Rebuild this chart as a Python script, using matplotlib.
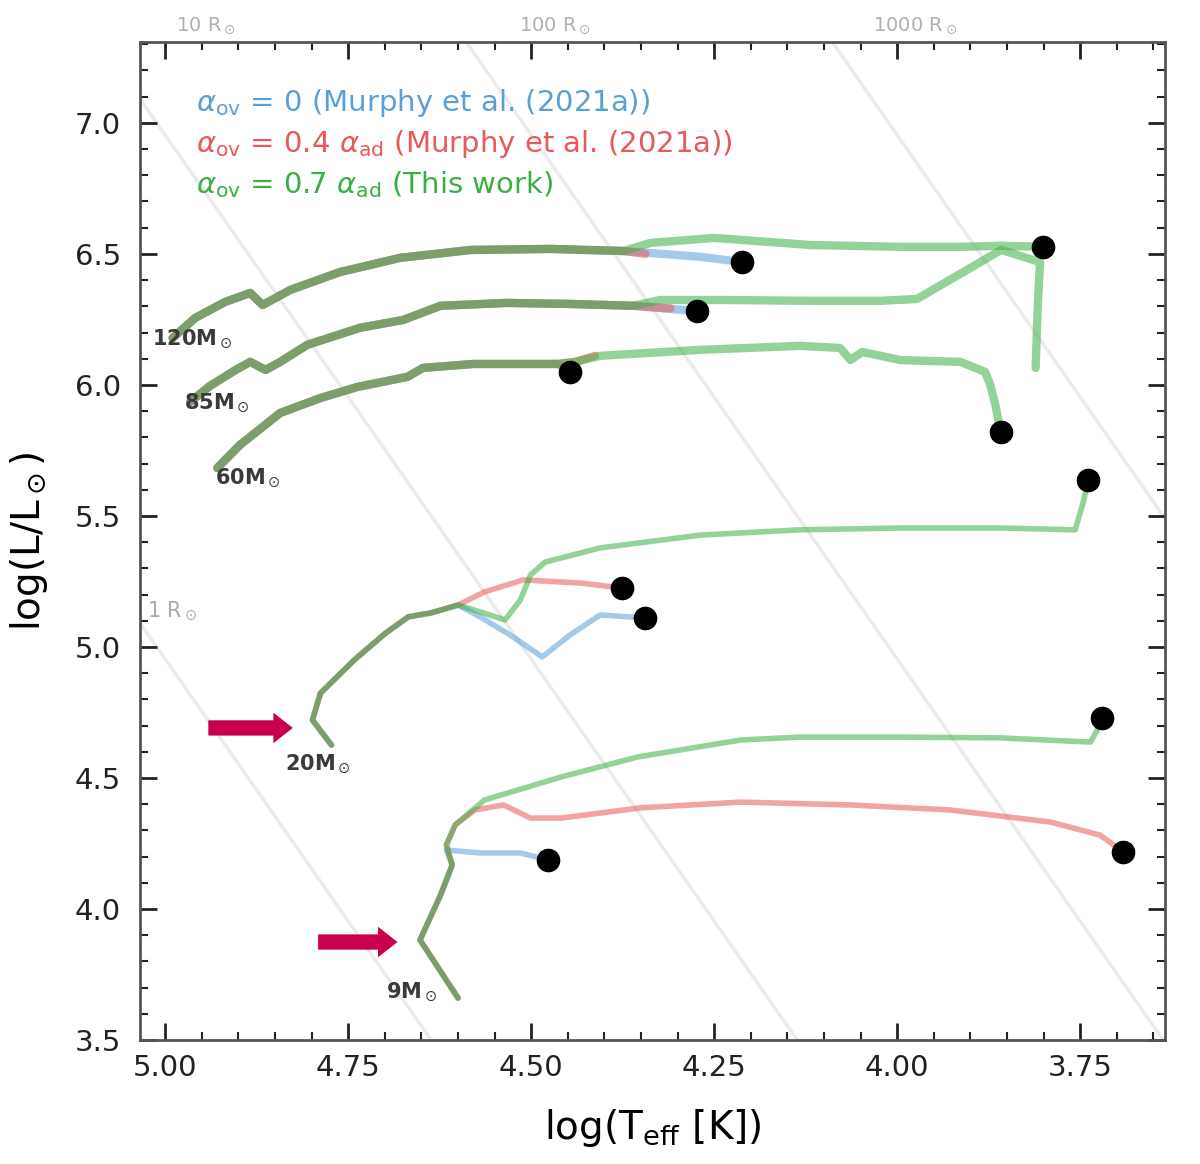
import numpy as np
import matplotlib.pyplot as plt
from matplotlib.ticker import MultipleLocator, FormatStrFormatter

# colours of the three model sets
c_blue = '#5aa0d8'
c_red = '#e8595a'
c_green = '#3cae45'

legend_labels = [r'$\alpha_{\rm ov}$ = 0 (Murphy et al. (2021a))',
                 r'$\alpha_{\rm ov}$ = 0.4 $\alpha_{\rm ad}$ (Murphy et al. (2021a))',
                 r'$\alpha_{\rm ov}$ = 0.7 $\alpha_{\rm ad}$ (This work)']

# ---- 120 Msun ----
ms120_T = [4.990, 4.959, 4.918, 4.884, 4.867, 4.829, 4.761, 4.679, 4.583, 4.474, 4.374]
ms120_L = [6.179, 6.256, 6.317, 6.351, 6.305, 6.363, 6.431, 6.485, 6.515, 6.519, 6.511]
b120_T = [4.269, 4.212]
b120_L = [6.489, 6.469]
r120_T = [4.344]
r120_L = [6.500]
g120_T = [4.337, 4.250, 4.119, 3.996, 3.914, 3.859, 3.801]
g120_L = [6.542, 6.561, 6.534, 6.527, 6.527, 6.531, 6.527]

# ---- 85 Msun ----
ms85_T = [4.966, 4.939, 4.904, 4.884, 4.863, 4.843, 4.806, 4.734, 4.675, 4.624, 4.533, 4.447, 4.361]
ms85_L = [5.935, 5.996, 6.057, 6.088, 6.057, 6.088, 6.153, 6.218, 6.248, 6.302, 6.313, 6.309, 6.302]
b85_T = [4.310, 4.273]
b85_L = [6.290, 6.282]
r85_T = [4.310]
r85_L = [6.292]
g85_T = [4.324, 4.235, 4.119, 4.023, 3.973, 3.858, 3.805, 3.808, 3.811]
g85_L = [6.324, 6.324, 6.321, 6.321, 6.328, 6.515, 6.469, 6.310, 6.065]

# ---- 60 Msun ----
ms60_T = [4.929, 4.898, 4.843, 4.788, 4.738, 4.669, 4.648, 4.579, 4.464]
ms60_L = [5.683, 5.771, 5.893, 5.950, 5.992, 6.031, 6.065, 6.080, 6.080]
b60_T = [4.447]
b60_L = [6.050]
r60_T = [4.440, 4.413]
r60_L = [6.088, 6.111]
g60_T = [4.440, 4.406, 4.269, 4.133, 4.078, 4.064, 4.048, 3.996, 3.914, 3.880, 3.873, 3.866, 3.859]
g60_L = [6.088, 6.111, 6.134, 6.149, 6.141, 6.095, 6.126, 6.095, 6.088, 6.050, 6.000, 5.924, 5.821]

# ---- 20 Msun ----
ms20_T = [4.773, 4.799, 4.788, 4.742, 4.699, 4.668, 4.637, 4.600]
ms20_L = [4.626, 4.721, 4.824, 4.950, 5.053, 5.115, 5.130, 5.160]
b20_T = [4.570, 4.529, 4.485, 4.447, 4.406, 4.344]
b20_L = [5.115, 5.046, 4.962, 5.046, 5.122, 5.111]
r20_T = [4.564, 4.511, 4.433, 4.376]
r20_L = [5.210, 5.256, 5.244, 5.225]
g20_T = [4.570, 4.536, 4.515, 4.501, 4.481, 4.406, 4.269, 4.133, 3.996, 3.859, 3.757, 3.747, 3.739]
g20_L = [5.134, 5.103, 5.179, 5.275, 5.324, 5.378, 5.427, 5.447, 5.454, 5.454, 5.447, 5.542, 5.637]

# ---- 9 Msun ----
ms9_T = [4.600, 4.652, 4.624, 4.608]
ms9_L = [3.660, 3.882, 4.053, 4.168]
b9_T = [4.616, 4.570, 4.515, 4.477]
b9_L = [4.225, 4.214, 4.214, 4.187]
r9_T = [4.616, 4.604, 4.577, 4.538, 4.501, 4.459, 4.351, 4.214, 4.064, 3.928, 3.791, 3.723, 3.691]
r9_L = [4.244, 4.321, 4.378, 4.397, 4.347, 4.347, 4.386, 4.408, 4.397, 4.378, 4.332, 4.282, 4.218]
g9_T = [4.616, 4.604, 4.564, 4.459, 4.355, 4.214, 4.133, 3.996, 3.859, 3.736, 3.727, 3.720]
g9_L = [4.244, 4.321, 4.416, 4.504, 4.580, 4.645, 4.656, 4.656, 4.653, 4.637, 4.683, 4.729]

# end points (black dots)
end_T = [4.212, 4.273, 4.447, 3.801, 3.859, 3.739, 4.376, 4.344, 3.720, 3.691, 4.477]
end_L = [6.469, 6.282, 6.050, 6.527, 5.821, 5.637, 5.225, 5.111, 4.729, 4.218, 4.187]

masses = ['120', '85', '60', '20', '9']
mass_T = [4.963, 4.929, 4.887, 4.791, 4.663]
mass_L = [6.172, 5.931, 5.645, 4.550, 3.683]

radii = [1, 10, 100, 1000]
top_labels = [r'10 R$_\odot$', r'100 R$_\odot$', r'1000 R$_\odot$']
top_T = [4.945, 4.467, 3.975]

logTsun = 3.7617

fig = plt.figure(figsize=(12, 11.64), dpi=100)
ax = fig.add_axes([0.117, 0.1065, 0.854, 0.8575])

# lines of constant radius
tt = np.linspace(3.6, 5.1, 50)
for R in radii:
    ax.plot(tt, 2 * np.log10(R) + 4 * (tt - logTsun), color='#ebebeb', lw=2.5, zorder=1)
ax.text(5.025, 5.09, r'1 R$_\odot$', color='#aaaaaa', fontsize=15, va='bottom')
for lab, t in zip(top_labels, top_T):
    ax.text(t, 7.33, lab, color='#b0b0b0', fontsize=14, ha='center', va='bottom', clip_on=False)

tracks = [
    (ms120_T, ms120_L, b120_T, b120_L, r120_T, r120_L, g120_T, g120_L),
    (ms85_T, ms85_L, b85_T, b85_L, r85_T, r85_L, g85_T, g85_L),
    (ms60_T, ms60_L, b60_T, b60_L, r60_T, r60_L, g60_T, g60_L),
    (ms20_T, ms20_L, b20_T, b20_L, r20_T, r20_L, g20_T, g20_L),
    (ms9_T, ms9_L, b9_T, b9_L, r9_T, r9_L, g9_T, g9_L),
]
for i, (mT, mL, bT, bL, rT, rL, gT, gL) in enumerate(tracks):
    lw = 6 if i < 3 else 4
    ax.plot(mT + bT, mL + bL, color=c_blue, lw=lw, alpha=0.55, solid_capstyle='round', zorder=3)
    ax.plot(mT + rT, mL + rL, color=c_red, lw=lw, alpha=0.55, solid_capstyle='round', zorder=4)
    ax.plot(mT + gT, mL + gL, color=c_green, lw=lw, alpha=0.55, solid_capstyle='round', zorder=5)

ax.plot(end_T, end_L, 'o', color='black', ms=16, zorder=8)

for m, t, l in zip(masses, mass_T, mass_L):
    ax.text(t, l, m + r'M$_\odot$', fontsize=15, fontweight='bold', color='#3a3a3a',
            ha='center', va='center', zorder=9)

# arrows
for x0, x1, y in [(4.945, 4.822, 4.691), (4.795, 4.679, 3.874)]:
    ax.annotate('', xy=(x1, y), xytext=(x0, y),
                arrowprops=dict(arrowstyle='simple,head_width=2.2,head_length=1.4,tail_width=1.1',
                                color='#c8004c', lw=0), zorder=9)

for k, (lab, c) in enumerate(zip(legend_labels, [c_blue, c_red, c_green])):
    ax.text(0.054, 0.939 - k * 0.041, lab, transform=ax.transAxes, color=c,
            fontsize=21, va='center')

ax.set_xlim(5.034, 3.634)
ax.set_ylim(3.5, 7.309)
ax.xaxis.set_major_locator(MultipleLocator(0.25))
ax.xaxis.set_minor_locator(MultipleLocator(0.05))
ax.yaxis.set_major_locator(MultipleLocator(0.5))
ax.yaxis.set_minor_locator(MultipleLocator(0.1))
ax.xaxis.set_major_formatter(FormatStrFormatter('%.2f'))
ax.yaxis.set_major_formatter(FormatStrFormatter('%.1f'))
ax.tick_params(which='both', direction='in', top=True, right=True, labelsize=21,
               colors='#222222')
ax.tick_params(axis='y', pad=14)
ax.tick_params(axis='x', pad=10)
ax.tick_params(which='major', length=12, width=2)
ax.tick_params(which='minor', length=6, width=1.5)
for s in ax.spines.values():
    s.set_linewidth(2)
    s.set_color('#555555')

ax.set_xlabel(r'log(T$_{\rm eff}$ [K])', fontsize=28, labelpad=18)
ax.set_ylabel(r'log(L/L$_\odot$)', fontsize=28, labelpad=18)

fig.savefig('out.png', dpi=100)
